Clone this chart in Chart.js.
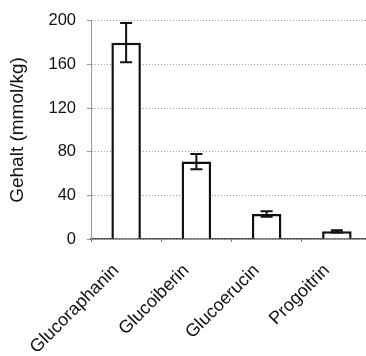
<!DOCTYPE html>
<html>
<head>
<meta charset="utf-8">
<script src="https://cdn.jsdelivr.net/npm/chart.js@4"></script>
<style>
    html, body { margin: 0; padding: 0; background: #fff; overflow: hidden; }
    #wrap { width: 366px; height: 356px; overflow: hidden; }
</style>
</head>
<body>
<div id="wrap"><canvas id="graph" width="372" height="356"></canvas></div>
<script>
// values
const substances = ['Glucoraphanin', 'Glucoiberin', 'Glucoerucin', 'Progoitrin']
const contents = [180, 71, 23, 7]
const deviations = [18, 7, 2.5, 1]
const yTicks = [0, 40, 80, 120, 160, 200]

const font = 'Liberation Sans, Arial, sans-serif'

/**
 * Draws the error bars on top of each bar
 */
const errorBars =
{
    id: 'errorBars',
    afterDatasetsDraw(chart)
    {
        const ctx = chart.ctx
        const yScale = chart.scales.y
        const meta = chart.getDatasetMeta(0)

        ctx.save()
        ctx.strokeStyle = '#111'
        ctx.lineWidth = 2
        meta.data.forEach((bar, i) =>
        {
            const x = bar.x
            const top = yScale.getPixelForValue(contents[i] + deviations[i])
            const bottom = yScale.getPixelForValue(contents[i] - deviations[i])
            const cap = 6
            ctx.beginPath()
            ctx.moveTo(x, top)
            ctx.lineTo(x, bottom)
            ctx.moveTo(x - cap, top)
            ctx.lineTo(x + cap, top)
            ctx.moveTo(x - cap, bottom)
            ctx.lineTo(x + cap, bottom)
            ctx.stroke()
        })
        ctx.restore()
    }
}

new Chart(document.querySelector('#graph'),
{
    type: 'bar',
    data:
    {
        labels: substances,
        datasets:
        [
            {
                data: contents,
                backgroundColor: '#ffffff',
                borderColor: '#111111',
                borderWidth: 2.5,
                barPercentage: 0.42,
                categoryPercentage: 1
            }
        ]
    },
    options:
    {
        responsive: false,
        animation: false,
        devicePixelRatio: 1,
        layout: {padding: {top: 12, right: 0, bottom: 0, left: 0}},
        plugins:
        {
            legend: {display: false},
            tooltip: {enabled: false}
        },
        scales:
        {
            x:
            {
                grid:
                {
                    display: true,
                    drawOnChartArea: false,
                    drawTicks: true,
                    tickLength: 3,
                    offset: true,
                    color: '#777'
                },
                border: {color: '#555', width: 1.5},
                ticks:
                {
                    color: '#111',
                    font: {family: font, size: 18},
                    minRotation: 45,
                    maxRotation: 45,
                    padding: 18,
                    labelOffset: -10
                },
                afterFit(scale) { scale.height = 117 }
            },
            y:
            {
                min: 0,
                max: 200,
                afterBuildTicks(scale) { scale.ticks = yTicks.map(v => ({value: v})) },
                grid:
                {
                    color: '#999',
                    lineWidth: 1,
                    tickLength: 4
                },
                border: {color: '#999', dash: [1, 2]},
                ticks:
                {
                    color: '#111',
                    font: {family: font, size: 16.5},
                    padding: 11
                },
                title:
                {
                    display: true,
                    text: 'Gehalt (mmol/kg)',
                    color: '#111',
                    font: {family: font, size: 19},
                    padding: {top: 6, bottom: 0}
                },
                afterFit(scale) { scale.width = 91 }
            }
        }
    },
    plugins:
    [
        errorBars,
        {
            id: 'dottedGrid',
            beforeDraw(chart)
            {
                chart.options.scales.y.grid.borderDash = [1, 2]
            }
        }
    ]
});
</script>
</body>
</html>
